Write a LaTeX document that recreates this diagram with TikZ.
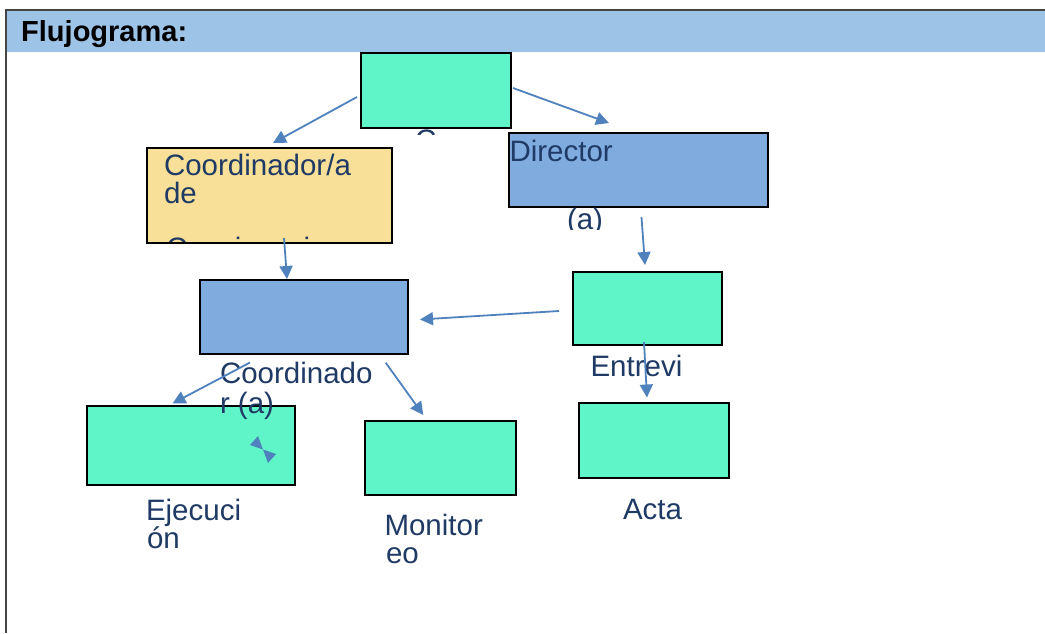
\documentclass[tikz,border=0pt]{standalone}
\usepackage{fontspec}
\setmainfont{Liberation Sans}
\usetikzlibrary{arrows.meta}

\definecolor{boxgreen}{RGB}{96,245,200}
\definecolor{boxyellow}{RGB}{249,224,152}
\definecolor{boxblue}{RGB}{127,171,223}
\definecolor{bandblue}{RGB}{157,195,230}
\definecolor{navytext}{RGB}{31,58,100}
\definecolor{arrowblue}{RGB}{79,129,189}
\definecolor{framegrey}{RGB}{70,70,70}

\tikzset{
  flowbox/.style={draw=black, line width=2pt, anchor=north west, inner sep=0pt, outer sep=0pt},
  greenbox/.style={flowbox, fill=boxgreen},
  yellowbox/.style={flowbox, fill=boxyellow},
  bluebox/.style={flowbox, fill=boxblue},
  lbl/.style={anchor=base west, inner sep=0pt, outer sep=0pt, text=navytext,
              font=\fontsize{29.5}{28}\selectfont},
  flowarrow/.style={draw=arrowblue, line width=1.8pt,
                    -{Triangle[length=13pt,width=13pt]}},
}

\begin{document}
\begin{tikzpicture}[x=1pt, y=-1pt]
  \useasboundingbox (0,0) rectangle (1045,633);

  % header band and frame
  \fill[bandblue] (6,10) rectangle (1045,52);
  \draw[framegrey, line width=1.5pt] (5,10) -- (1045,10);
  \draw[framegrey, line width=2pt] (6,10) -- (6,633);
  \node[anchor=base west, inner sep=0pt, font=\fontsize{29}{30}\selectfont\bfseries]
    (title) at (21,41.5) {Flujograma:};

  % boxes
  \node[greenbox, minimum width=150pt, minimum height=75pt]  (top)    at (361,53)  {};
  \node[yellowbox, minimum width=245pt, minimum height=95pt] (coord)  at (147,148) {};
  \node[bluebox, minimum width=259pt, minimum height=74pt]   (dir)    at (509,133) {};
  \node[greenbox, minimum width=149pt, minimum height=73pt]  (entrev) at (573,272) {};
  \node[bluebox, minimum width=208pt, minimum height=74pt]   (coordr) at (200,280) {};
  \node[greenbox, minimum width=208pt, minimum height=79pt]  (ejec)   at (87,406)  {};
  \node[greenbox, minimum width=151pt, minimum height=74pt]  (monit)  at (365,421) {};
  \node[greenbox, minimum width=150pt, minimum height=75pt]  (acta)   at (579,403) {};

  % labels
  \begin{scope}
    \clip (380,128) rectangle (470,134);
    \node[lbl] (topl) at (415,150) {C};
  \end{scope}
  \node[lbl] (coordl1) at (164,175) {Coordinador/a};
  \node[lbl] (coordl2) at (164,203) {de};
  \begin{scope}
    \clip (148,225) rectangle (391,241.5);
    \node[lbl] (coordl3) at (166,258.5) {Convivencia};
  \end{scope}
  \node[lbl] (dirl1) at (509.5,161) {Director};
  \begin{scope}
    \clip (540,200) rectangle (620,229.5);
    \node[lbl] (dirl2) at (567,229) {(a)};
  \end{scope}
  \node[lbl] (coordrl1) at (220,383) {Coordinado};
  \node[lbl] (coordrl2) at (220,413) {r (a)};
  \node[lbl] (entrevl) at (590.5,376) {Entrevi};
  \node[lbl] (actal) at (623,519.3) {Acta};
  \node[lbl] (ejecl1) at (146,520.7) {Ejecuci};
  \node[lbl] (ejecl2) at (147,548) {ón};
  \node[lbl] (monitl1) at (384.5,535.7) {Monitor};
  \node[lbl] (monitl2) at (386,563.3) {eo};

  % connectors
  \draw[flowarrow] ([shift={(-4,6.5)}]top.west) -- ([shift={(3.5,-5)}]coord.north);
  \draw[flowarrow] ([shift={(2,-2.5)}]top.east) -- ([shift={(-29.5,-10)}]dir.north);
  \draw[flowarrow] ([shift={(14.5,-5)}]coord.south) -- ([shift={(-17,-1)}]coordr.north);
  \draw[flowarrow] ([shift={(3,10)}]dir.south) -- ([shift={(-2.5,-7)}]entrev.north);
  \draw[flowarrow] ([shift={(-14,2.5)}]entrev.west) -- ([shift={(12,2.5)}]coordr.east);
  \draw[flowarrow] ([shift={(-3.5,-3)}]entrev.south) -- ([shift={(-7,-5.5)}]acta.north);
  \draw[flowarrow] ([shift={(-54,8.5)}]coordr.south) -- ([shift={(-18.5,-2.5)}]ejec.north);
  \draw[flowarrow] ([shift={(81.7,8.7)}]coordr.south) -- ([shift={(-17.2,-6)}]monit.north);

  % small stray double tip inside the execution box
  \coordinate (tie) at (263,449.5);
  \fill[arrowblue] (tie) -- (250,445) -- (258,436) -- cycle;
  \fill[arrowblue] (tie) -- (276,454) -- (268,463) -- cycle;
\end{tikzpicture}
\end{document}
